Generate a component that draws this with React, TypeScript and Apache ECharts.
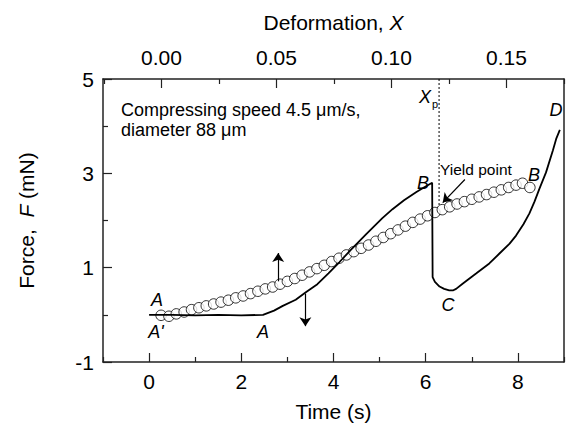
import { useEffect, useRef } from 'react';
import * as echarts from 'echarts';

// ---- data ----
const timeTicks = [0, 2, 4, 6, 8];
const timeMinorTicks = [-1, 1, 3, 5, 7, 9];
const forceTicks = [-1, 1, 3, 5];
const forceMinorTicks = [0, 2, 4];
const deformTicks = [0, 0.05, 0.1, 0.15];
const deformMinorTicks = [-0.025, 0.025, 0.075, 0.125, 0.175];

// force vs time (solid line)
const forceCurve: [number, number][] = [
  [0.0, 0.0], [0.5, 0.0], [1.0, -0.01], [1.5, 0.0], [2.0, -0.01], [2.47, 0.0],
  [2.71, 0.09], [2.9, 0.19], [3.18, 0.32], [3.4, 0.48], [3.65, 0.65], [3.89, 0.88],
  [4.13, 1.12], [4.36, 1.36], [4.71, 1.71], [5.06, 2.05], [5.28, 2.24],
  [5.53, 2.43], [5.79, 2.6], [5.96, 2.7], [6.14, 2.8], [6.15, 0.8],
  [6.2, 0.7], [6.3, 0.6], [6.4, 0.55], [6.51, 0.52], [6.6, 0.52], [6.66, 0.55],
  [6.8, 0.66], [6.95, 0.77], [7.1, 0.88], [7.38, 1.09], [7.6, 1.3],
  [7.82, 1.51], [7.96, 1.68], [8.12, 1.92], [8.25, 2.15], [8.36, 2.4], [8.47, 2.68],
  [8.61, 3.02], [8.76, 3.49], [8.83, 3.73], [8.91, 3.92]
];

// open circles
const circleData: [number, number][] = [
  [0.26, -0.01], [0.43, -0.03], [0.59, 0.02], [0.76, 0.06], [0.92, 0.11], [1.08, 0.15],
  [1.24, 0.19], [1.4, 0.23], [1.56, 0.27], [1.72, 0.31], [1.88, 0.36], [2.04, 0.4],
  [2.2, 0.45], [2.36, 0.5], [2.52, 0.55], [2.68, 0.59], [2.84, 0.65], [3.0, 0.71],
  [3.16, 0.77], [3.32, 0.84], [3.48, 0.91], [3.64, 0.98], [3.8, 1.05], [3.96, 1.13],
  [4.12, 1.2], [4.28, 1.27], [4.44, 1.34], [4.6, 1.41], [4.76, 1.48], [4.92, 1.56],
  [5.08, 1.64], [5.24, 1.72], [5.4, 1.8], [5.56, 1.88], [5.72, 1.96], [5.88, 2.03],
  [6.04, 2.1], [6.2, 2.17], [6.36, 2.23], [6.52, 2.29], [6.68, 2.35], [6.84, 2.4],
  [7.0, 2.45], [7.16, 2.5], [7.32, 2.55], [7.48, 2.6], [7.64, 2.65], [7.8, 2.7],
  [7.96, 2.75], [8.1, 2.79], [8.26, 2.7]
];

const yieldLine: [number, number][] = [[6.29, 5], [6.29, 2.3]];

const arrows: [number, number, number, number][] = [
  [2.8, 0.71, 2.8, 1.31],
  [3.39, 0.45, 3.39, -0.24],
  [6.85, 2.87, 6.37, 2.38]
];

const FONT = '"Liberation Sans", Arial, Helvetica, sans-serif';
const AXIS_COLOR = '#222';

export default function App() {
  const ref = useRef<HTMLDivElement>(null);
  useEffect(() => {
    if (!ref.current) return;
    const chart = echarts.init(ref.current, undefined, { renderer: 'svg' });
    const tickLen = 9;
    const minorLen = 5;
    const baseAxisLine = { show: true, onZero: false, lineStyle: { color: AXIS_COLOR, width: 1.5 } };
    const noLine = { show: false, onZero: false };
    const tickStyle = { color: AXIS_COLOR, width: 1.2 };
    const labelStyle = { fontFamily: FONT, fontSize: 21, color: '#000' };
    const nameStyle = {
      fontFamily: FONT, fontSize: 21, color: '#000',
      rich: {
        n: { fontFamily: FONT, fontSize: 21, color: '#000' },
        i: { fontFamily: FONT, fontSize: 21, color: '#000', fontStyle: 'italic' }
      }
    };
    const letter = (text: string, x: number, y: number) => ({
      type: 'text', x, y,
      style: { text, font: `italic 18px ${FONT}`, fill: '#000', align: 'center', verticalAlign: 'middle' }
    });
    const option: any = {
      animation: false,
      backgroundColor: '#fff',
      grid: { left: 103, right: 3, top: 79, bottom: 65, containLabel: false, outerBoundsMode: 'none' },
      xAxis: [
        {
          type: 'value', position: 'bottom', min: -1, max: 9,
          axisLine: baseAxisLine,
          axisTick: { show: true, inside: true, length: tickLen, customValues: timeTicks, lineStyle: tickStyle },
          axisLabel: { show: true, customValues: timeTicks, margin: 9, ...labelStyle },
          splitLine: { show: false },
          name: 'Time (s)', nameLocation: 'middle', nameGap: 39,
          nameTextStyle: nameStyle
        },
        {
          type: 'value', position: 'bottom', min: -1, max: 9,
          axisLine: noLine,
          axisTick: { show: true, inside: true, length: minorLen, customValues: timeMinorTicks, lineStyle: tickStyle },
          axisLabel: { show: false },
          splitLine: { show: false }
        },
        {
          type: 'value', position: 'top', min: -0.0254, max: 0.175,
          axisLine: baseAxisLine,
          axisTick: { show: true, inside: true, length: tickLen, customValues: deformTicks, lineStyle: tickStyle },
          axisLabel: { show: true, customValues: deformTicks, margin: 11, formatter: (v: number) => v.toFixed(2), ...labelStyle },
          splitLine: { show: false },
          name: '{n|Deformation, }{i|X}', nameLocation: 'middle', nameGap: 46,
          nameTextStyle: nameStyle
        },
        {
          type: 'value', position: 'top', min: -0.0254, max: 0.175,
          axisLine: noLine,
          axisTick: { show: true, inside: true, length: minorLen, customValues: deformMinorTicks, lineStyle: tickStyle },
          axisLabel: { show: false },
          splitLine: { show: false }
        }
      ],
      yAxis: [
        {
          type: 'value', position: 'left', min: -1, max: 5,
          axisLine: baseAxisLine,
          axisTick: { show: true, inside: true, length: tickLen, customValues: forceTicks, lineStyle: tickStyle },
          axisLabel: { show: true, customValues: forceTicks, margin: 9, ...labelStyle },
          splitLine: { show: false },
          name: '{n|Force,  }{i|F}{n| (mN)}', nameLocation: 'middle', nameGap: 66,
          nameTextStyle: nameStyle
        },
        {
          type: 'value', position: 'left', min: -1, max: 5,
          axisLine: noLine,
          axisTick: { show: true, inside: true, length: minorLen, customValues: forceMinorTicks, lineStyle: tickStyle },
          axisLabel: { show: false },
          splitLine: { show: false }
        },
        {
          type: 'value', position: 'right', min: -1, max: 5,
          axisLine: baseAxisLine,
          axisTick: { show: false },
          axisLabel: { show: false },
          splitLine: { show: false }
        }
      ],
      series: [
        {
          type: 'scatter', xAxisIndex: 0, yAxisIndex: 0,
          data: circleData, symbol: 'circle', symbolSize: 10.5,
          itemStyle: { color: '#fff', borderColor: '#000', borderWidth: 1 },
          silent: true, z: 2
        },
        {
          type: 'line', xAxisIndex: 0, yAxisIndex: 0,
          data: forceCurve, showSymbol: false, symbol: 'none',
          lineStyle: { color: '#000', width: 1.8 },
          silent: true, z: 3
        },
        {
          type: 'line', xAxisIndex: 0, yAxisIndex: 0,
          data: yieldLine, showSymbol: false, symbol: 'none',
          lineStyle: { color: '#000', width: 1, type: [2, 2] },
          silent: true, z: 1
        },
        {
          type: 'scatter', xAxisIndex: 0, yAxisIndex: 0, data: [],
          silent: true,
          markLine: {
            silent: true, animation: false,
            symbol: ['none', 'arrow'], symbolSize: 9,
            label: { show: false },
            lineStyle: { color: '#000', width: 1.2, type: 'solid' },
            emphasis: { disabled: true },
            data: arrows.map(a => [{ coord: [a[0], a[1]] }, { coord: [a[2], a[3]] }])
          }
        }
      ],
      graphic: [
        { type: 'text', x: 121, y: 110, style: { text: 'Compressing speed 4.5 μm/s,', font: `18px ${FONT}`, fill: '#000', align: 'left', verticalAlign: 'middle' } },
        { type: 'text', x: 121, y: 130, style: { text: 'diameter 88 μm', font: `18px ${FONT}`, fill: '#000', align: 'left', verticalAlign: 'middle' } },
        { type: 'text', x: 440, y: 169, style: { text: 'Yield point', font: `15.5px ${FONT}`, fill: '#000', align: 'left', verticalAlign: 'middle' } },
        {
          type: 'text', x: 419, y: 97,
          style: {
            text: '{x|X}{p|p}', align: 'left', verticalAlign: 'middle',
            rich: {
              x: { font: `italic 18px ${FONT}`, fill: '#000', verticalAlign: 'middle' },
              p: { font: `11px ${FONT}`, fill: '#000', padding: [14, 0, 0, 1] }
            }
          }
        },
        letter('A', 157, 300),
        letter("A'", 156, 332),
        letter('A', 263, 332),
        letter('B', 423, 183),
        letter('B', 534, 175),
        letter('C', 448, 305),
        letter('D', 556, 110)
      ]
    };
    chart.setOption(option);
    return () => chart.dispose();
  }, []);
  return (
    <div
      ref={ref}
      style={{ position: 'fixed', left: 0, top: 0, width: 567, height: 427, background: '#fff' }}
    />
  );
}
